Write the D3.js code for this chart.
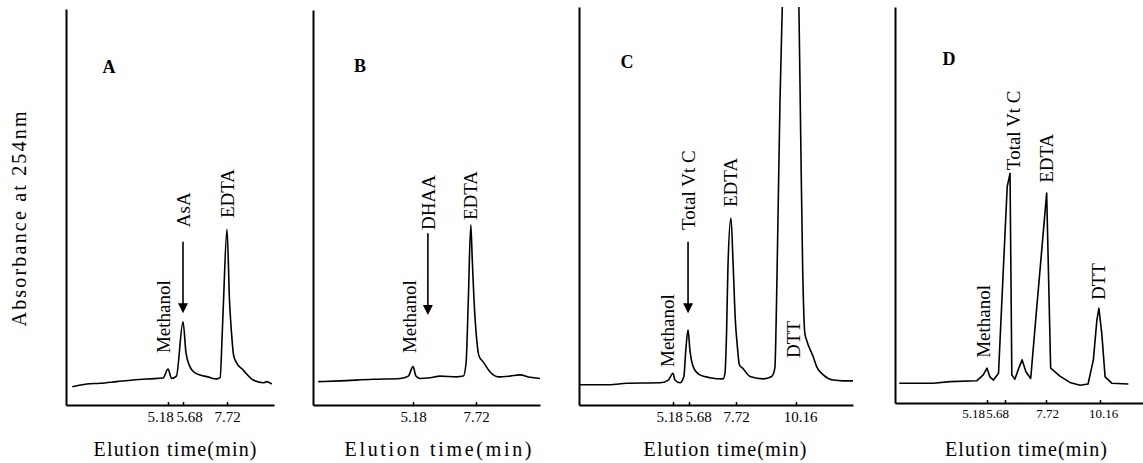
<!DOCTYPE html>
<html><head><meta charset="utf-8">
<script src="https://cdn.jsdelivr.net/npm/d3@7"></script>
<style>
html,body{margin:0;padding:0;background:#fff;}
svg{display:block;font-family:"Liberation Serif","Times New Roman",serif;}
</style></head><body>
<svg id="chart" width="1143" height="463"></svg>
<script>
// ---------------- DATA ----------------
const panelIds = ["A", "B", "C", "D"];
const xTitle = "Elution time(min)";
const yTitle = "Absorbance at 254nm";

// tick labels (retention times, min)
const ticksA = [5.18, 5.68, 7.72];
const ticksB = [5.18, 7.72];
const ticksC = [5.18, 5.68, 7.72, 10.16];
const ticksD = [5.18, 5.68, 7.72, 10.16];
const axisEndA = 9.8, axisEndB = 10.3, axisEndC = 12.48, axisEndD = 12.1;

// chromatogram traces: time (min) and absorbance (% of full scale)
const timeA = [0.32,1.05,1.73,2.57,3.40,4.27,4.93,5.18,5.30,5.46,5.68,5.82,6.00,6.19,6.47,6.83,7.24,7.40,7.50,7.56,7.72,7.83,7.92,8.01,8.12,8.44,8.88,9.33,9.48,9.70];
const absA  = [4.6,5.3,5.5,5.9,6.3,6.6,6.8,9.1,6.7,7.3,21.0,13.1,9.7,8.3,7.6,7.1,6.6,6.9,18.2,26.5,44.4,26.5,18.2,12.6,10.9,8.8,6.3,5.6,5.9,5.3];

const timeB = [0.27,1.40,3.12,4.51,4.94,5.18,5.30,5.46,5.87,6.27,6.94,7.21,7.32,7.41,7.51,7.57,7.64,7.75,7.84,8.01,8.28,8.62,9.09,9.49,9.90,10.30];
const absB  = [5.9,6.1,6.5,6.7,7.3,9.7,7.3,6.7,6.9,7.3,7.1,7.3,10.6,26.5,45.5,36.6,26.5,16.4,12.4,10.9,8.4,7.1,7.3,7.6,7.0,6.7];

const timeC = [0.06,1.71,2.63,4.46,4.92,5.18,5.24,5.40,5.52,5.58,5.65,5.72,5.86,6.15,6.59,7.16,7.24,7.31,7.37,7.50,7.60,7.69,7.77,7.86,7.99,8.29,8.83,9.17,9.30,9.37,9.44,9.51,9.60,9.94,10.28,10.35,10.43,10.52,10.59,10.86,11.00,11.27,11.67,12.08,12.48];
const absC  = [5.1,5.1,5.5,5.6,6.3,8.0,6.3,5.6,7.2,13.9,19.0,13.9,9.7,7.6,6.9,6.6,8.0,18.2,34.8,47.2,34.8,21.5,15.2,10.1,9.3,7.2,6.6,7.2,9.3,26.5,51.8,77.0,99.7,160,99.7,68.6,34.9,18.1,16.4,12.2,9.7,7.6,6.3,6.1,6.1];

const timeD = [0.24,2.16,3.10,4.60,4.97,5.18,5.26,5.36,5.50,5.62,5.79,5.93,6.02,6.17,6.33,6.53,6.72,6.96,7.16,7.75,7.93,8.35,8.80,9.26,9.62,9.86,10.02,10.11,10.24,10.39,10.69,11.44];
const absD  = [5.0,5.0,5.4,5.6,7.1,8.8,6.6,5.8,7.5,31.1,54.6,58.0,7.1,6.0,8.3,10.9,7.9,6.2,18.2,53.0,8.8,6.8,5.2,4.5,4.8,10.9,21.0,23.9,17.6,6.6,5.0,4.8];

// peak annotations (text, time, absorbance at text start)
const labelTextA = ["Methanol", "AsA", "EDTA"];
const labelTimeA = [4.93, 5.68, 7.72];
const labelAbsA  = [13.1, 44.9, 47.2];
const labelTextB = ["Methanol", "DHAA", "EDTA"];
const labelTimeB = [4.97, 5.78, 7.48];
const labelAbsB  = [13.1, 44.2, 46.7];
const labelTextC = ["Methanol", "Total Vt C", "EDTA", "DTT"];
const labelTimeC = [4.85, 5.65, 7.46, 10.04];
const labelAbsC  = [9.6, 44.2, 50.0, 11.9];
const labelTextD = ["Methanol", "Total Vt C", "EDTA", "DTT"];
const labelTimeD = [4.95, 6.08, 7.74, 10.07];
const labelAbsD  = [11.4, 58.8, 55.6, 26.0];

// arrows (time, from absorbance, to absorbance)
const arrowA = [5.68, 41.2, 23.2];
const arrowB = [5.78, 43.4, 22.7];
const arrowC = [5.65, 41.2, 23.2];

// ---------------- LAYOUT ----------------
const panels = {
  A: {ticks: ticksA, end: axisEndA, time: timeA, abs: absA, lt: labelTextA, lx: labelTimeA, ly: labelAbsA, arrow: arrowA,
      xKnots: [66,168,183,227,274], yBottom: 405, yTop: 9, letter: [109,73],
      tickDx: [-8,6,0], tickFont: 15, titleX: 175, titleLen: 163, curve: d3.curveMonotoneX},
  B: {ticks: ticksB, end: axisEndB, time: timeB, abs: absB, lt: labelTextB, lx: labelTimeB, ly: labelAbsB, arrow: arrowB,
      xKnots: [313,413,476,540], yBottom: 405, yTop: 10, letter: [360,72],
      tickDx: [0,0], tickFont: 15, titleX: 438, titleLen: 187, curve: d3.curveMonotoneX},
  C: {ticks: ticksC, end: axisEndC, time: timeC, abs: absC, lt: labelTextC, lx: labelTimeC, ly: labelAbsC, arrow: arrowC,
      xKnots: [579,673,689,736,796,853], yBottom: 405, yTop: 7, letter: [627,68],
      tickDx: [-4,9,0,4], tickFont: 15, titleX: 725, titleLen: 163, curve: d3.curveMonotoneX},
  D: {ticks: ticksD, end: axisEndD, time: timeD, abs: absD, lt: labelTextD, lx: labelTimeD, ly: labelAbsD, arrow: null,
      xKnots: [895,987,1005,1046,1100,1143], yBottom: 403, yTop: 7, letter: [949,65],
      tickDx: [-14,-8,1,3], tickFont: 13, titleX: 1026, titleLen: 162, curve: d3.curveLinear}
};

const svg = d3.select("#chart");
svg.append("rect").attr("width",1143).attr("height",463).attr("fill","#fff");

// y axis title
svg.append("text")
  .attr("transform","translate(18.5,219) rotate(-90)")
  .attr("text-anchor","middle").attr("dy","0.35em")
  .attr("font-size",20).attr("textLength",215).attr("lengthAdjust","spacing")
  .attr("fill","#000").text(yTitle);

panelIds.forEach(id => {
  const p = panels[id];
  const g = svg.append("g");
  const x = d3.scaleLinear().domain([0, ...p.ticks, p.end]).range(p.xKnots);
  const y = d3.scaleLinear().domain([0, 100]).range([p.yBottom, p.yBottom - 396]);
  const x0 = p.xKnots[0], x1 = p.xKnots[p.xKnots.length - 1];

  // clip
  const cid = "clip" + id;
  svg.append("clipPath").attr("id", cid).append("rect")
    .attr("x", x0).attr("y", p.yTop).attr("width", x1 - x0).attr("height", p.yBottom - p.yTop);

  // trace
  const pts = p.time.map((t, i) => [t, p.abs[i]]);
  g.append("path").datum(pts)
    .attr("clip-path", `url(#${cid})`)
    .attr("fill","none").attr("stroke","#000").attr("stroke-width",1.6)
    .attr("stroke-linejoin","round")
    .attr("d", d3.line().x(d => x(d[0])).y(d => y(d[1])).curve(p.curve));

  // x axis
  const xa = g.append("g").attr("transform", `translate(0,${p.yBottom})`)
    .call(d3.axisBottom(x).tickValues(p.ticks).tickFormat(d3.format(".2f"))
      .tickSizeInner(-3).tickSizeOuter(0).tickPadding(6));
  xa.attr("font-family", null).attr("font-size", null);
  xa.select(".domain").attr("stroke","#000").attr("stroke-width",2);
  xa.selectAll(".tick line").attr("stroke","#000").attr("stroke-width",1.5);
  xa.selectAll(".tick text").attr("fill","#000").attr("font-size", p.tickFont)
    .attr("dx", (d, i) => p.tickDx[i]);

  // y axis
  const ya = g.append("g").attr("transform", `translate(${x0},0)`)
    .call(d3.axisLeft(d3.scaleLinear().range([p.yBottom, p.yTop])).tickValues([]).tickSizeOuter(0));
  ya.select(".domain").attr("stroke","#000").attr("stroke-width",2);

  // panel letter
  g.append("text").attr("x", p.letter[0]).attr("y", p.letter[1])
    .attr("text-anchor","middle").attr("font-weight","bold").attr("font-size",18)
    .attr("fill","#000").text(id);

  // peak labels
  p.lt.forEach((txt, i) => {
    g.append("text")
      .attr("transform", `translate(${x(p.lx[i])},${y(p.ly[i])}) rotate(-90)`)
      .attr("dy","0.35em").attr("text-anchor","start")
      .attr("font-size",19).attr("fill","#000").text(txt);
  });

  // arrow
  if (p.arrow) {
    const ax = x(p.arrow[0]), ay0 = y(p.arrow[1]), ay1 = y(p.arrow[2]);
    g.append("line").attr("x1",ax).attr("x2",ax).attr("y1",ay0).attr("y2",ay1 - 6)
      .attr("stroke","#000").attr("stroke-width",1.6);
    g.append("path")
      .attr("d", `M${ax},${ay1} L${ax-5},${ay1-10} L${ax+5},${ay1-10} Z`)
      .attr("fill","#000");
  }

  // x axis title
  g.append("text").attr("x", p.titleX).attr("y", 456)
    .attr("text-anchor","middle").attr("font-size",20)
    .attr("textLength", p.titleLen).attr("lengthAdjust","spacing")
    .attr("fill","#000").text(xTitle);
});
</script>
</body></html>
